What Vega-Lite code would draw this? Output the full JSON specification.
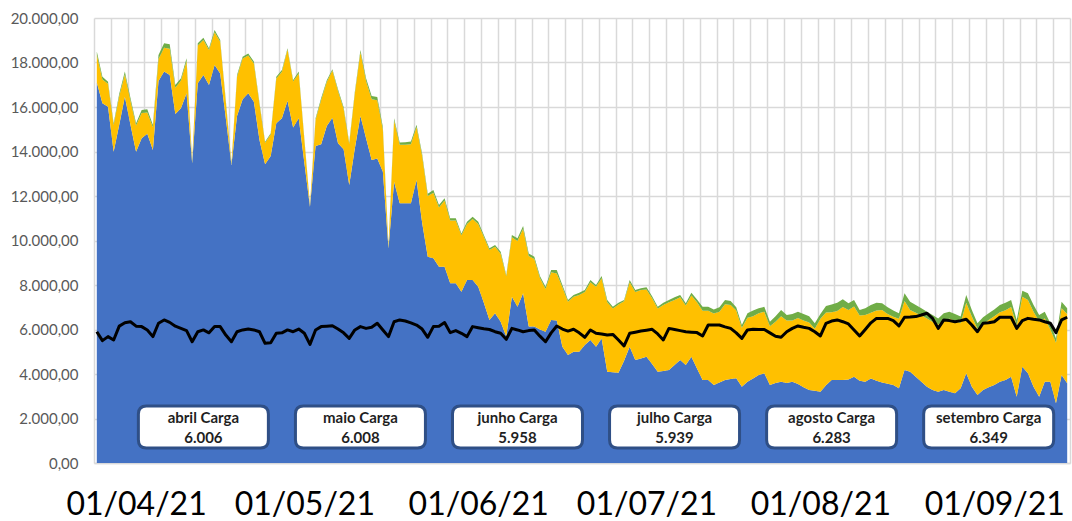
{
  "$schema": "https://vega.github.io/schema/vega-lite/v6.json",
  "width": 976,
  "height": 445,
  "autosize": "none",
  "padding": {"left": 94, "top": 18, "right": 2, "bottom": 58},
  "background": "#FFFFFF",
  "config": {
    "view": {"stroke": null},
    "font": "Lato",
    "locale": {"number": {"decimal": ",", "thousands": ".", "grouping": [3], "currency": ["R$", ""]}}
  },
  "datasets": {
    "fontes": [
      {"fonte": "hidraulica", "ordem": 1},
      {"fonte": "eolica", "ordem": 2},
      {"fonte": "solar", "ordem": 3}
    ],
    "caixas": [
      {"dia": "2021-04-13", "rotulo": "abril Carga", "carga": 6006},
      {"dia": "2021-05-11", "rotulo": "maio Carga", "carga": 6008},
      {"dia": "2021-06-08", "rotulo": "junho Carga", "carga": 5958},
      {"dia": "2021-07-06", "rotulo": "julho Carga", "carga": 5939},
      {"dia": "2021-08-03", "rotulo": "agosto Carga", "carga": 6283},
      {"dia": "2021-08-31", "rotulo": "setembro Carga", "carga": 6349}
    ],
    "serie": [
      {"dia": "2021-03-25", "hidraulica": 17100, "eolica": 1250, "solar": 150, "carga": 5900},
      {"dia": "2021-03-26", "hidraulica": 16170, "eolica": 1070, "solar": 120, "carga": 5500},
      {"dia": "2021-03-27", "hidraulica": 16010, "eolica": 1030, "solar": 100, "carga": 5680},
      {"dia": "2021-03-28", "hidraulica": 13990, "eolica": 1200, "solar": 80, "carga": 5530},
      {"dia": "2021-03-29", "hidraulica": 15200, "eolica": 1280, "solar": 120, "carga": 6150},
      {"dia": "2021-03-30", "hidraulica": 16460, "eolica": 1000, "solar": 140, "carga": 6300},
      {"dia": "2021-03-31", "hidraulica": 15200, "eolica": 1080, "solar": 120, "carga": 6350},
      {"dia": "2021-04-01", "hidraulica": 13990, "eolica": 1180, "solar": 100, "carga": 6150},
      {"dia": "2021-04-02", "hidraulica": 14590, "eolica": 1140, "solar": 140, "carga": 6130},
      {"dia": "2021-04-03", "hidraulica": 14800, "eolica": 950, "solar": 150, "carga": 5980},
      {"dia": "2021-04-04", "hidraulica": 14070, "eolica": 1020, "solar": 100, "carga": 5680},
      {"dia": "2021-04-05", "hidraulica": 17170, "eolica": 990, "solar": 180, "carga": 6280},
      {"dia": "2021-04-06", "hidraulica": 17590, "eolica": 1070, "solar": 200, "carga": 6430},
      {"dia": "2021-04-07", "hidraulica": 17440, "eolica": 1180, "solar": 200, "carga": 6320},
      {"dia": "2021-04-08", "hidraulica": 15680, "eolica": 1190, "solar": 120, "carga": 6150},
      {"dia": "2021-04-09", "hidraulica": 15940, "eolica": 1250, "solar": 100, "carga": 6050},
      {"dia": "2021-04-10", "hidraulica": 16620, "eolica": 1450, "solar": 120, "carga": 5950},
      {"dia": "2021-04-11", "hidraulica": 13470, "eolica": 50, "solar": 60, "carga": 5450},
      {"dia": "2021-04-12", "hidraulica": 17070, "eolica": 1690, "solar": 100, "carga": 5900},
      {"dia": "2021-04-13", "hidraulica": 17440, "eolica": 1570, "solar": 100, "carga": 5980},
      {"dia": "2021-04-14", "hidraulica": 16990, "eolica": 1570, "solar": 80, "carga": 5850},
      {"dia": "2021-04-15", "hidraulica": 17890, "eolica": 1470, "solar": 100, "carga": 6130},
      {"dia": "2021-04-16", "hidraulica": 17510, "eolica": 1420, "solar": 80, "carga": 6130},
      {"dia": "2021-04-17", "hidraulica": 15500, "eolica": 740, "solar": 60, "carga": 5750},
      {"dia": "2021-04-18", "hidraulica": 13390, "eolica": 50, "solar": 50, "carga": 5450},
      {"dia": "2021-04-19", "hidraulica": 15600, "eolica": 1760, "solar": 80, "carga": 5900},
      {"dia": "2021-04-20", "hidraulica": 16350, "eolica": 1830, "solar": 80, "carga": 5980},
      {"dia": "2021-04-21", "hidraulica": 16620, "eolica": 1690, "solar": 100, "carga": 6020},
      {"dia": "2021-04-22", "hidraulica": 16240, "eolica": 1720, "solar": 80, "carga": 5980},
      {"dia": "2021-04-23", "hidraulica": 14520, "eolica": 1620, "solar": 60, "carga": 5900},
      {"dia": "2021-04-24", "hidraulica": 13430, "eolica": 960, "solar": 50, "carga": 5380},
      {"dia": "2021-04-25", "hidraulica": 13800, "eolica": 960, "solar": 60, "carga": 5400},
      {"dia": "2021-04-26", "hidraulica": 15270, "eolica": 2010, "solar": 80, "carga": 5830},
      {"dia": "2021-04-27", "hidraulica": 15500, "eolica": 2080, "solar": 80, "carga": 5850},
      {"dia": "2021-04-28", "hidraulica": 16280, "eolica": 2300, "solar": 60, "carga": 5980},
      {"dia": "2021-04-29", "hidraulica": 15080, "eolica": 2070, "solar": 60, "carga": 5900},
      {"dia": "2021-04-30", "hidraulica": 15500, "eolica": 2010, "solar": 80, "carga": 6020},
      {"dia": "2021-05-01", "hidraulica": 13500, "eolica": 1040, "solar": 60, "carga": 5830},
      {"dia": "2021-05-02", "hidraulica": 11520, "eolica": 50, "solar": 40, "carga": 5330},
      {"dia": "2021-05-03", "hidraulica": 14250, "eolica": 1180, "solar": 60, "carga": 5980},
      {"dia": "2021-05-04", "hidraulica": 14330, "eolica": 1990, "solar": 80, "carga": 6130},
      {"dia": "2021-05-05", "hidraulica": 15150, "eolica": 1970, "solar": 80, "carga": 6150},
      {"dia": "2021-05-06", "hidraulica": 15520, "eolica": 2120, "solar": 60, "carga": 6170},
      {"dia": "2021-05-07", "hidraulica": 14370, "eolica": 2350, "solar": 80, "carga": 6020},
      {"dia": "2021-05-08", "hidraulica": 14100, "eolica": 1820, "solar": 80, "carga": 5850},
      {"dia": "2021-05-09", "hidraulica": 12490, "eolica": 1850, "solar": 60, "carga": 5600},
      {"dia": "2021-05-10", "hidraulica": 14140, "eolica": 2470, "solar": 80, "carga": 5980},
      {"dia": "2021-05-11", "hidraulica": 15600, "eolica": 2860, "solar": 100, "carga": 6130},
      {"dia": "2021-05-12", "hidraulica": 14590, "eolica": 2580, "solar": 120, "carga": 6050},
      {"dia": "2021-05-13", "hidraulica": 13620, "eolica": 2730, "solar": 150, "carga": 6100},
      {"dia": "2021-05-14", "hidraulica": 13690, "eolica": 2610, "solar": 150, "carga": 6280},
      {"dia": "2021-05-15", "hidraulica": 13090, "eolica": 1890, "solar": 120, "carga": 5980},
      {"dia": "2021-05-16", "hidraulica": 9650, "eolica": 50, "solar": 80, "carga": 5680},
      {"dia": "2021-05-17", "hidraulica": 12640, "eolica": 2750, "solar": 100, "carga": 6350},
      {"dia": "2021-05-18", "hidraulica": 11670, "eolica": 2630, "solar": 100, "carga": 6430},
      {"dia": "2021-05-19", "hidraulica": 11670, "eolica": 2630, "solar": 120, "carga": 6380},
      {"dia": "2021-05-20", "hidraulica": 11670, "eolica": 2660, "solar": 120, "carga": 6300},
      {"dia": "2021-05-21", "hidraulica": 12720, "eolica": 2380, "solar": 100, "carga": 6200},
      {"dia": "2021-05-22", "hidraulica": 10800, "eolica": 3000, "solar": 100, "carga": 6020},
      {"dia": "2021-05-23", "hidraulica": 9270, "eolica": 2730, "solar": 100, "carga": 5650},
      {"dia": "2021-05-24", "hidraulica": 9200, "eolica": 2950, "solar": 120, "carga": 6130},
      {"dia": "2021-05-25", "hidraulica": 8820, "eolica": 2660, "solar": 120, "carga": 6150},
      {"dia": "2021-05-26", "hidraulica": 8820, "eolica": 2980, "solar": 100, "carga": 6310},
      {"dia": "2021-05-27", "hidraulica": 8080, "eolica": 2820, "solar": 100, "carga": 5860},
      {"dia": "2021-05-28", "hidraulica": 8080, "eolica": 2820, "solar": 100, "carga": 5950},
      {"dia": "2021-05-29", "hidraulica": 7700, "eolica": 2540, "solar": 80, "carga": 5830},
      {"dia": "2021-05-30", "hidraulica": 8220, "eolica": 2520, "solar": 100, "carga": 5680},
      {"dia": "2021-05-31", "hidraulica": 8220, "eolica": 2750, "solar": 100, "carga": 6130},
      {"dia": "2021-06-01", "hidraulica": 7920, "eolica": 2820, "solar": 100, "carga": 6080},
      {"dia": "2021-06-02", "hidraulica": 7200, "eolica": 2970, "solar": 80, "carga": 6030},
      {"dia": "2021-06-03", "hidraulica": 6430, "eolica": 3140, "solar": 80, "carga": 6000},
      {"dia": "2021-06-04", "hidraulica": 6730, "eolica": 2990, "solar": 80, "carga": 5900},
      {"dia": "2021-06-05", "hidraulica": 6350, "eolica": 3050, "solar": 100, "carga": 5830},
      {"dia": "2021-06-06", "hidraulica": 5680, "eolica": 2710, "solar": 60, "carga": 5560},
      {"dia": "2021-06-07", "hidraulica": 7470, "eolica": 2680, "solar": 100, "carga": 6050},
      {"dia": "2021-06-08", "hidraulica": 7020, "eolica": 2960, "solar": 120, "carga": 5980},
      {"dia": "2021-06-09", "hidraulica": 7630, "eolica": 2900, "solar": 120, "carga": 5900},
      {"dia": "2021-06-10", "hidraulica": 6130, "eolica": 3170, "solar": 120, "carga": 5950},
      {"dia": "2021-06-11", "hidraulica": 6130, "eolica": 3040, "solar": 100, "carga": 5980},
      {"dia": "2021-06-12", "hidraulica": 6000, "eolica": 2320, "solar": 80, "carga": 5700},
      {"dia": "2021-06-13", "hidraulica": 5900, "eolica": 1920, "solar": 100, "carga": 5450},
      {"dia": "2021-06-14", "hidraulica": 6430, "eolica": 2140, "solar": 100, "carga": 5850},
      {"dia": "2021-06-15", "hidraulica": 6400, "eolica": 2120, "solar": 150, "carga": 6160},
      {"dia": "2021-06-16", "hidraulica": 5230, "eolica": 2670, "solar": 100, "carga": 6020},
      {"dia": "2021-06-17", "hidraulica": 4850, "eolica": 2400, "solar": 80, "carga": 5930},
      {"dia": "2021-06-18", "hidraulica": 5000, "eolica": 2470, "solar": 80, "carga": 6010},
      {"dia": "2021-06-19", "hidraulica": 5000, "eolica": 2550, "solar": 100, "carga": 5850},
      {"dia": "2021-06-20", "hidraulica": 5300, "eolica": 2380, "solar": 100, "carga": 5650},
      {"dia": "2021-06-21", "hidraulica": 5530, "eolica": 2590, "solar": 100, "carga": 5980},
      {"dia": "2021-06-22", "hidraulica": 5230, "eolica": 2690, "solar": 80, "carga": 5830},
      {"dia": "2021-06-23", "hidraulica": 5600, "eolica": 2700, "solar": 100, "carga": 5800},
      {"dia": "2021-06-24", "hidraulica": 4100, "eolica": 3130, "solar": 100, "carga": 5750},
      {"dia": "2021-06-25", "hidraulica": 4080, "eolica": 2860, "solar": 80, "carga": 5780},
      {"dia": "2021-06-26", "hidraulica": 4060, "eolica": 3060, "solar": 80, "carga": 5530},
      {"dia": "2021-06-27", "hidraulica": 4600, "eolica": 2670, "solar": 60, "carga": 5260},
      {"dia": "2021-06-28", "hidraulica": 5230, "eolica": 2890, "solar": 100, "carga": 5830},
      {"dia": "2021-06-29", "hidraulica": 4630, "eolica": 3050, "solar": 100, "carga": 5880},
      {"dia": "2021-06-30", "hidraulica": 4700, "eolica": 3070, "solar": 80, "carga": 5930},
      {"dia": "2021-07-01", "hidraulica": 4780, "eolica": 3020, "solar": 100, "carga": 5970},
      {"dia": "2021-07-02", "hidraulica": 4450, "eolica": 2950, "solar": 100, "carga": 6010},
      {"dia": "2021-07-03", "hidraulica": 4100, "eolica": 2840, "solar": 80, "carga": 5800},
      {"dia": "2021-07-04", "hidraulica": 4140, "eolica": 2960, "solar": 100, "carga": 5530},
      {"dia": "2021-07-05", "hidraulica": 4180, "eolica": 3050, "solar": 100, "carga": 6050},
      {"dia": "2021-07-06", "hidraulica": 4400, "eolica": 2930, "solar": 120, "carga": 6000},
      {"dia": "2021-07-07", "hidraulica": 4630, "eolica": 2820, "solar": 100, "carga": 5950},
      {"dia": "2021-07-08", "hidraulica": 4400, "eolica": 2680, "solar": 100, "carga": 5900},
      {"dia": "2021-07-09", "hidraulica": 4780, "eolica": 2750, "solar": 120, "carga": 5880},
      {"dia": "2021-07-10", "hidraulica": 4250, "eolica": 2980, "solar": 120, "carga": 5860},
      {"dia": "2021-07-11", "hidraulica": 3730, "eolica": 3110, "solar": 180, "carga": 5710},
      {"dia": "2021-07-12", "hidraulica": 3730, "eolica": 3110, "solar": 180, "carga": 6200},
      {"dia": "2021-07-13", "hidraulica": 3510, "eolica": 3210, "solar": 180, "carga": 6200},
      {"dia": "2021-07-14", "hidraulica": 3620, "eolica": 3180, "solar": 200, "carga": 6200},
      {"dia": "2021-07-15", "hidraulica": 3730, "eolica": 3400, "solar": 200, "carga": 6120},
      {"dia": "2021-07-16", "hidraulica": 3770, "eolica": 3330, "solar": 180, "carga": 6050},
      {"dia": "2021-07-17", "hidraulica": 3810, "eolica": 3040, "solar": 150, "carga": 5850},
      {"dia": "2021-07-18", "hidraulica": 3430, "eolica": 2650, "solar": 120, "carga": 5600},
      {"dia": "2021-07-19", "hidraulica": 3650, "eolica": 2880, "solar": 200, "carga": 5980},
      {"dia": "2021-07-20", "hidraulica": 3800, "eolica": 2800, "solar": 250, "carga": 6010},
      {"dia": "2021-07-21", "hidraulica": 3960, "eolica": 2770, "solar": 220, "carga": 6000},
      {"dia": "2021-07-22", "hidraulica": 4030, "eolica": 2770, "solar": 220, "carga": 6000},
      {"dia": "2021-07-23", "hidraulica": 3510, "eolica": 2640, "solar": 200, "carga": 5850},
      {"dia": "2021-07-24", "hidraulica": 3600, "eolica": 2750, "solar": 250, "carga": 5700},
      {"dia": "2021-07-25", "hidraulica": 3650, "eolica": 2950, "solar": 280, "carga": 5650},
      {"dia": "2021-07-26", "hidraulica": 3600, "eolica": 2800, "solar": 250, "carga": 5900},
      {"dia": "2021-07-27", "hidraulica": 3650, "eolica": 2750, "solar": 300, "carga": 6050},
      {"dia": "2021-07-28", "hidraulica": 3550, "eolica": 2970, "solar": 280, "carga": 6160},
      {"dia": "2021-07-29", "hidraulica": 3400, "eolica": 3000, "solar": 300, "carga": 6100},
      {"dia": "2021-07-30", "hidraulica": 3280, "eolica": 3040, "solar": 280, "carga": 6050},
      {"dia": "2021-07-31", "hidraulica": 3250, "eolica": 2780, "solar": 250, "carga": 5900},
      {"dia": "2021-08-01", "hidraulica": 3200, "eolica": 3280, "solar": 220, "carga": 5710},
      {"dia": "2021-08-02", "hidraulica": 3500, "eolica": 3260, "solar": 300, "carga": 6280},
      {"dia": "2021-08-03", "hidraulica": 3730, "eolica": 3040, "solar": 350, "carga": 6380},
      {"dia": "2021-08-04", "hidraulica": 3730, "eolica": 3100, "solar": 370, "carga": 6430},
      {"dia": "2021-08-05", "hidraulica": 3730, "eolica": 3280, "solar": 350, "carga": 6350},
      {"dia": "2021-08-06", "hidraulica": 3750, "eolica": 3130, "solar": 300, "carga": 6250},
      {"dia": "2021-08-07", "hidraulica": 3880, "eolica": 3150, "solar": 300, "carga": 5980},
      {"dia": "2021-08-08", "hidraulica": 3700, "eolica": 2930, "solar": 250, "carga": 5710},
      {"dia": "2021-08-09", "hidraulica": 3650, "eolica": 3000, "solar": 300, "carga": 6000},
      {"dia": "2021-08-10", "hidraulica": 3800, "eolica": 2950, "solar": 350, "carga": 6300},
      {"dia": "2021-08-11", "hidraulica": 3700, "eolica": 3150, "solar": 350, "carga": 6500},
      {"dia": "2021-08-12", "hidraulica": 3620, "eolica": 3260, "solar": 300, "carga": 6500},
      {"dia": "2021-08-13", "hidraulica": 3560, "eolica": 3140, "solar": 300, "carga": 6500},
      {"dia": "2021-08-14", "hidraulica": 3510, "eolica": 3060, "solar": 280, "carga": 6400},
      {"dia": "2021-08-15", "hidraulica": 3360, "eolica": 3120, "solar": 250, "carga": 6160},
      {"dia": "2021-08-16", "hidraulica": 4180, "eolica": 3100, "solar": 350, "carga": 6550},
      {"dia": "2021-08-17", "hidraulica": 4100, "eolica": 2780, "solar": 370, "carga": 6560},
      {"dia": "2021-08-18", "hidraulica": 3880, "eolica": 2870, "solar": 350, "carga": 6580},
      {"dia": "2021-08-19", "hidraulica": 3650, "eolica": 2980, "solar": 320, "carga": 6650},
      {"dia": "2021-08-20", "hidraulica": 3430, "eolica": 3070, "solar": 300, "carga": 6730},
      {"dia": "2021-08-21", "hidraulica": 3280, "eolica": 3070, "solar": 300, "carga": 6500},
      {"dia": "2021-08-22", "hidraulica": 3200, "eolica": 3020, "solar": 280, "carga": 6050},
      {"dia": "2021-08-23", "hidraulica": 3280, "eolica": 3150, "solar": 300, "carga": 6430},
      {"dia": "2021-08-24", "hidraulica": 3200, "eolica": 3280, "solar": 320, "carga": 6400},
      {"dia": "2021-08-25", "hidraulica": 3130, "eolica": 3270, "solar": 300, "carga": 6350},
      {"dia": "2021-08-26", "hidraulica": 3360, "eolica": 2920, "solar": 300, "carga": 6400},
      {"dia": "2021-08-27", "hidraulica": 4030, "eolica": 3170, "solar": 350, "carga": 6460},
      {"dia": "2021-08-28", "hidraulica": 3430, "eolica": 3150, "solar": 300, "carga": 6200},
      {"dia": "2021-08-29", "hidraulica": 3060, "eolica": 2970, "solar": 250, "carga": 5900},
      {"dia": "2021-08-30", "hidraulica": 3280, "eolica": 2970, "solar": 300, "carga": 6280},
      {"dia": "2021-08-31", "hidraulica": 3400, "eolica": 3030, "solar": 300, "carga": 6300},
      {"dia": "2021-09-01", "hidraulica": 3510, "eolica": 3090, "solar": 300, "carga": 6350},
      {"dia": "2021-09-02", "hidraulica": 3650, "eolica": 3130, "solar": 320, "carga": 6550},
      {"dia": "2021-09-03", "hidraulica": 3730, "eolica": 3140, "solar": 330, "carga": 6550},
      {"dia": "2021-09-04", "hidraulica": 3880, "eolica": 3130, "solar": 320, "carga": 6550},
      {"dia": "2021-09-05", "hidraulica": 2980, "eolica": 3200, "solar": 250, "carga": 6050},
      {"dia": "2021-09-06", "hidraulica": 4330, "eolica": 3140, "solar": 270, "carga": 6400},
      {"dia": "2021-09-07", "hidraulica": 4030, "eolica": 3300, "solar": 300, "carga": 6500},
      {"dia": "2021-09-08", "hidraulica": 3430, "eolica": 3370, "solar": 300, "carga": 6460},
      {"dia": "2021-09-09", "hidraulica": 2980, "eolica": 3390, "solar": 280, "carga": 6430},
      {"dia": "2021-09-10", "hidraulica": 3650, "eolica": 2850, "solar": 300, "carga": 6350},
      {"dia": "2021-09-11", "hidraulica": 3650, "eolica": 2350, "solar": 280, "carga": 6280},
      {"dia": "2021-09-12", "hidraulica": 2680, "eolica": 2720, "solar": 200, "carga": 5860},
      {"dia": "2021-09-13", "hidraulica": 3960, "eolica": 2990, "solar": 300, "carga": 6430},
      {"dia": "2021-09-14", "hidraulica": 3580, "eolica": 3120, "solar": 250, "carga": 6550}
    ]
  },
  "resolve": {"axis": {"x": "independent", "y": "independent"}},
  "layer": [
    {
      "data": {"name": "serie"},
      "transform": [
        {"fold": ["hidraulica", "eolica", "solar"], "as": ["fonte", "valor"]},
        {"lookup": "fonte", "from": {"data": {"name": "fontes"}, "key": "fonte", "fields": ["ordem"]}}
      ],
      "mark": {"type": "area", "opacity": 1, "interpolate": "linear"},
      "encoding": {
        "x": {
          "field": "dia", "type": "temporal",
          "scale": {"type": "utc", "domain": [1616587200000, 1631620800000], "nice": false},
          "axis": {
            "orient": "bottom", "title": null, "labels": false, "ticks": false,
            "grid": true, "gridColor": "#D9D9D9", "gridWidth": 1.5,
            "domain": true, "domainColor": "#D9D9D9", "domainWidth": 1.5,
            "values": [1616587200000, 1616846400000, 1617105600000, 1617364800000, 1617624000000, 1617883200000, 1618142400000, 1618401600000, 1618660800000, 1618920000000, 1619179200000, 1619438400000, 1619697600000, 1619956800000, 1620216000000, 1620475200000, 1620734400000, 1620993600000, 1621252800000, 1621512000000, 1621771200000, 1622030400000, 1622289600000, 1622548800000, 1622808000000, 1623067200000, 1623326400000, 1623585600000, 1623844800000, 1624104000000, 1624363200000, 1624622400000, 1624881600000, 1625140800000, 1625400000000, 1625659200000, 1625918400000, 1626177600000, 1626436800000, 1626696000000, 1626955200000, 1627214400000, 1627473600000, 1627732800000, 1627992000000, 1628251200000, 1628510400000, 1628769600000, 1629028800000, 1629288000000, 1629547200000, 1629806400000, 1630065600000, 1630324800000, 1630584000000, 1630843200000, 1631102400000, 1631361600000, 1631620800000]
          }
        },
        "y": {
          "field": "valor", "type": "quantitative", "stack": "zero",
          "scale": {"domain": [0, 20000], "nice": false},
          "axis": {
            "orient": "left", "title": null, "values": [0, 2000, 4000, 6000, 8000, 10000, 12000, 14000, 16000, 18000, 20000],
            "format": ",.2f", "grid": true, "gridColor": "#D9D9D9", "gridWidth": 1.5,
            "domain": false, "ticks": false, "labelPadding": 16,
            "labelFont": "Lato", "labelFontSize": 15, "labelColor": "#595959"
          }
        },
        "color": {
          "field": "fonte", "type": "nominal", "legend": null,
          "scale": {"domain": ["hidraulica", "eolica", "solar"], "range": ["#4472C4", "#FFC000", "#70AD47"]}
        },
        "order": {"field": "ordem", "type": "quantitative", "sort": "ascending"}
      }
    },
    {
      "data": {"name": "serie"},
      "mark": {"type": "line", "color": "#000000", "strokeWidth": 3, "strokeJoin": "round"},
      "encoding": {
        "x": {
          "field": "dia", "type": "temporal",
          "axis": {
            "orient": "bottom", "title": null, "grid": false, "ticks": false, "domain": false,
            "values": [1617235200000, 1619827200000, 1622505600000, 1625097600000, 1627776000000, 1630454400000],
            "labelExpr": "utcFormat(datum.value, '%d/%m/%y')",
            "labelFont": "Lato", "labelFontSize": 32, "labelColor": "#000000",
            "labelPadding": 26, "labelOverlap": false, "labelFlush": false
          }
        },
        "y": {"field": "carga", "type": "quantitative", "axis": null}
      }
    },
    {
      "data": {"name": "caixas"},
      "mark": {
        "type": "point",
        "shape": "M-57,-21 H57 Q65,-21 65,-13 V13 Q65,21 57,21 H-57 Q-65,21 -65,13 V-13 Q-65,-21 -57,-21 Z",
        "size": 4, "filled": true, "fill": "#FFFFFF", "stroke": "#2F4F86", "strokeWidth": 3,
        "opacity": 1, "fillOpacity": 1, "strokeOpacity": 1
      },
      "encoding": {
        "x": {"field": "dia", "type": "temporal", "axis": null},
        "y": {"datum": 1620, "type": "quantitative", "axis": null}
      }
    },
    {
      "data": {"name": "caixas"},
      "mark": {"type": "text", "font": "Lato", "fontSize": 15, "fontWeight": "bold", "color": "#1F1F1F", "dy": -9},
      "encoding": {
        "x": {"field": "dia", "type": "temporal", "axis": null},
        "y": {"datum": 1620, "type": "quantitative", "axis": null},
        "text": {"field": "rotulo"}
      }
    },
    {
      "data": {"name": "caixas"},
      "mark": {"type": "text", "font": "Lato", "fontSize": 15, "fontWeight": "bold", "color": "#1F1F1F", "dy": 11},
      "encoding": {
        "x": {"field": "dia", "type": "temporal", "axis": null},
        "y": {"datum": 1620, "type": "quantitative", "axis": null},
        "text": {"field": "carga", "type": "quantitative", "format": ",.0f"}
      }
    }
  ]
}
